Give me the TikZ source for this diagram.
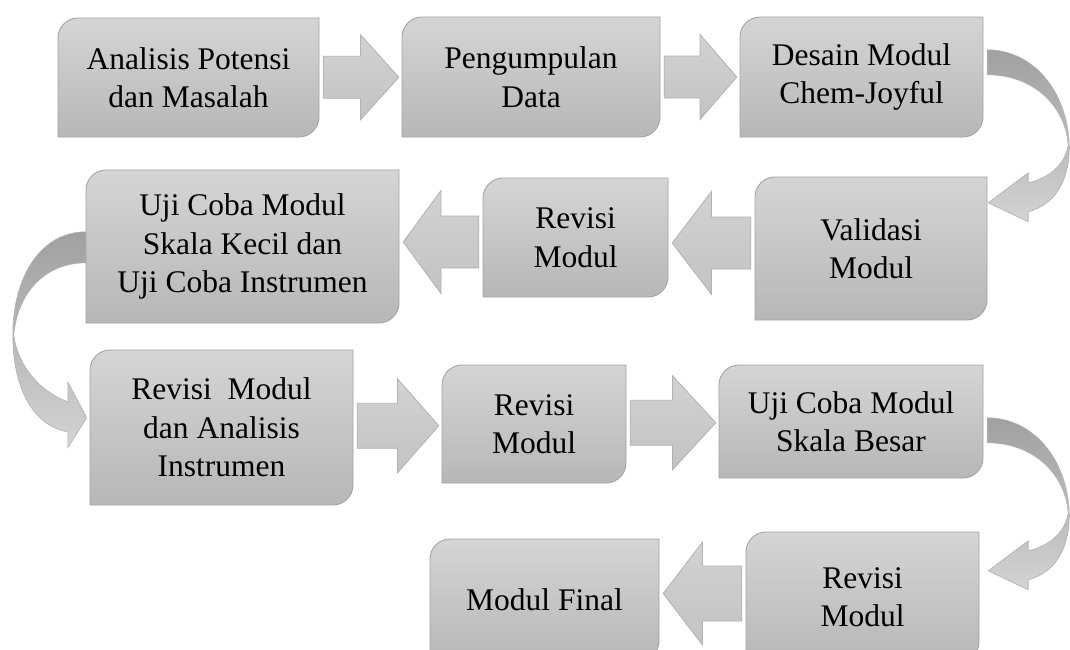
\documentclass[tikz,border=0pt]{standalone}
\usepackage{fontspec}
\setmainfont{Liberation Serif}
\usetikzlibrary{calc}
\definecolor{boxtop}{HTML}{D5D5D5}
\definecolor{boxbot}{HTML}{B7B7B7}
\definecolor{boxline}{HTML}{A4A4A4}
\definecolor{arrtop}{HTML}{D2D2D2}
\definecolor{arrbot}{HTML}{C3C3C3}
\definecolor{arrline}{HTML}{B2B2B2}
\definecolor{curvtop}{HTML}{A0A0A0}
\definecolor{curvbot}{HTML}{D3D3D3}
\tikzset{
  boxsh/.style={top color=boxtop, bottom color=boxbot, draw=boxline, line width=0.9pt},
  lbl/.style={font=\fontsize{31.5}{38.5}\selectfont, align=center, inner sep=0pt, text=black},
  arrsh/.style={top color=arrtop, bottom color=arrbot, draw=arrline, line width=0.8pt},
  curvsh/.style={top color=curvtop, bottom color=curvbot, draw=curvbot!85!black, line width=0.6pt},
}
% name, x1, y1, x2, y2, text  (rounded top-left and bottom-right corners, radius 20)
\newcommand\stepbox[6]{%
  \draw[boxsh] (#2,#5) -- (#2,{#3+20})
     .. controls (#2,{#3+9}) and ({#2+9},#3) .. ({#2+20},#3) -- (#4,#3)
     -- (#4,{#5-20})
     .. controls (#4,{#5-9}) and ({#4-9},#5) .. ({#4-20},#5) -- cycle;
  \node[lbl, minimum width={#4pt-#2pt}, minimum height={#5pt-#3pt}] (#1)
     at ({(#2+#4)/2},{(#3+#5)/2}) {#6};
}
% right-pointing block arrow: source, target, shaft half, head half, canvas y shift
\newcommand\rarr[5]{%
  \path[arrsh] let \p1=(#1.east), \p2=(#2.west), \p3=($(#1.east)!0.5!(#2.west)$) in
    (\x1+4pt,\y3+#5+#3pt) -- (\x3,\y3+#5+#3pt) -- (\x3,\y3+#5+#4pt) -- (\x2-3pt,\y3+#5)
    -- (\x3,\y3+#5-#4pt) -- (\x3,\y3+#5-#3pt) -- (\x1+4pt,\y3+#5-#3pt) -- cycle;
}
% left-pointing block arrow
\newcommand\larr[5]{%
  \path[arrsh] let \p1=(#1.west), \p2=(#2.east), \p3=($(#1.west)!0.5!(#2.east)$) in
    (\x1-4pt,\y3+#5+#3pt) -- (\x3,\y3+#5+#3pt) -- (\x3,\y3+#5+#4pt) -- (\x2+4pt,\y3+#5)
    -- (\x3,\y3+#5-#4pt) -- (\x3,\y3+#5-#3pt) -- (\x1-4pt,\y3+#5-#3pt) -- cycle;
}
\begin{document}
\begin{tikzpicture}[x=1pt,y=-1pt]
\useasboundingbox (0,0) rectangle (1070,649);
\clip (0,0) rectangle (1070,649);
\fill[white] (0,0) rectangle (1070,649);

\stepbox{b1}{58}{18}{319}{137}{Analisis Potensi\\dan Masalah}
\stepbox{b2}{402}{17}{660}{137}{Pengumpulan\\Data}
\stepbox{b3}{740}{17}{983}{137}{Desain Modul\\Chem-Joyful}
\stepbox{b4}{755}{177}{987}{320}{Validasi\\Modul}
\stepbox{b5}{483}{178}{668}{297}{Revisi\\Modul}
\stepbox{b6}{86}{170}{399}{323}{Uji Coba Modul\\Skala Kecil dan\\Uji Coba Instrumen}
\stepbox{b7}{90}{350}{353}{505}{Revisi\ \ Modul\\dan Analisis\\Instrumen}
\stepbox{b8}{442}{365}{626}{483}{Revisi\\Modul}
\stepbox{b9}{719}{365}{983}{478}{Uji Coba Modul\\Skala Besar}
\stepbox{b10}{746}{532}{979}{662}{Revisi\\Modul}
\stepbox{b11}{430}{539}{659}{661}{Modul Final}

\rarr{b1}{b2}{21}{42.5}{0pt}
\rarr{b2}{b3}{21}{42.5}{0pt}
\larr{b4}{b5}{26}{51.5}{0pt}
\larr{b5}{b6}{26}{51.5}{0pt}
\rarr{b7}{b8}{22.5}{47}{0pt}
\rarr{b8}{b9}{22.5}{47}{0pt}
\larr{b10}{b11}{27.5}{51.5}{5pt}

% curved arrows on the right (b3 -> b4, b9 -> b10)
\begin{scope}[shift={($(b3.north east)+(4,33)$)}]
  \path[curvsh] (0,0) .. controls (45,0) and (80,40) .. (82,95)
    .. controls (83,130) and (68,155) .. (41,162) -- (41,172) -- (1,153) -- (41,123) -- (41,133)
    .. controls (62,128) and (78,115) .. (81,95)
    .. controls (78,55) and (45,25) .. (0,25) -- cycle;
\end{scope}
\begin{scope}[shift={($(b9.north east)+(4,53)$)}]
  \path[curvsh] (0,0) .. controls (45,0) and (80,40) .. (82,95)
    .. controls (83,130) and (68,155) .. (41,162) -- (41,172) -- (1,153) -- (41,123) -- (41,133)
    .. controls (62,128) and (78,115) .. (81,95)
    .. controls (78,55) and (45,25) .. (0,25) -- cycle;
\end{scope}
% curved arrow on the left (b6 -> b7)
\begin{scope}[shift={($(b6.north west)+(0,62)$)}]
  \path[curvsh] (0,0) .. controls (-45,0) and (-73,45) .. (-73,103)
    .. controls (-73,160) and (-50,195) .. (-18,200) -- (-18,216) -- (1,186) -- (-18,150) -- (-18,170)
    .. controls (-45,160) and (-68,135) .. (-72,103)
    .. controls (-68,60) and (-40,31) .. (0,31) -- cycle;
\end{scope}
\end{tikzpicture}
\end{document}
